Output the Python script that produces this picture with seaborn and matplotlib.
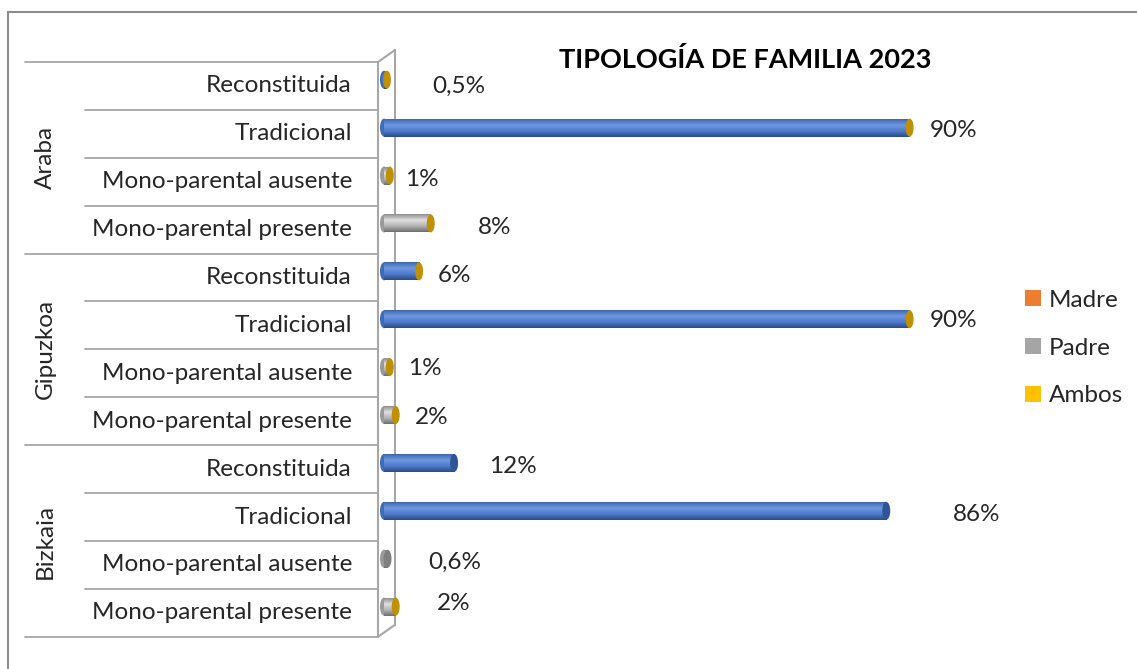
import numpy as np
import pandas as pd
import matplotlib
matplotlib.use("Agg")
import matplotlib.pyplot as plt
import seaborn as sns
from matplotlib.colors import LinearSegmentedColormap
from matplotlib.patches import Ellipse, Patch, Rectangle

# data
provincias = ["Araba", "Gipuzkoa", "Bizkaia"]
tipos = ["Reconstituida", "Tradicional", "Mono-parental ausente", "Mono-parental presente"]
araba = [0.5, 90, 1, 8]
gipuzkoa = [6, 90, 1, 2]
bizkaia = [12, 86, 0.6, 2]
leyenda = ["Madre", "Padre", "Ambos"]
titulo = "TIPOLOGÍA DE FAMILIA 2023"

# layout of the value labels (left edge in %, as placed by hand in the original)
label_x = [8.2, 93.5, 3.6, 16.1, 9.2, 93.5, 4.1, 5.3, 18.0, 97.4, 7.5, 9.1]
label_dy = [0, -0.06, -0.05, -0.05, -0.05, -0.1, -0.1, -0.08, -0.05, -0.06, -0.05, -0.2]

sns.set_theme(style="white")
plt.rcParams["font.family"] = ["Lato", "DejaVu Sans"]
FS = 17.5

rows = []
for prov, vals in zip(provincias, [araba, gipuzkoa, bizkaia]):
    for t, v in zip(tipos, vals):
        rows.append({"fila": prov + "|" + t, "provincia": prov, "tipo": t, "valor": v,
                     "color": "azul" if t in ("Reconstituida", "Tradicional") else "gris"})
df = pd.DataFrame(rows)

W, H = 1137, 669
fig = plt.figure(figsize=(W / 100, H / 100), dpi=100)
ax = fig.add_axes([0, 0, 1, 1])

# pixel <-> data mapping
PX_PER_PCT = 5.84
X0 = 384
ROW_H = 47.9
Y0 = 62
def px_x(p):
    return (p - X0) / PX_PER_PCT
def px_y(p):
    return (p - Y0) / ROW_H - 0.5

bar_h = 0.375
sns.barplot(data=df, x="valor", y="fila", hue="color", order=list(df["fila"]),
            palette={"azul": "#4472C4", "gris": "#A5A5A5"}, dodge=False,
            width=bar_h, orient="h", legend=False, ax=ax)

cmaps = {
    "azul": LinearSegmentedColormap.from_list("az", ["#3d66b3", "#7098e0", "#4d7bcc", "#2b4a88"]),
    "gris": LinearSegmentedColormap.from_list("gr", ["#8f8f8f", "#e0e0e0", "#b3b3b3", "#6e6e6e"]),
}
left_col = {"azul": "#3f6bbd", "gris": "#9a9a9a"}
cap_w = 8 / PX_PER_PCT
grad = np.linspace(0, 1, 64).reshape(-1, 1)
shift = -0.13

for p in list(ax.patches):
    yc = p.get_y() + p.get_height() / 2
    i = int(round(yc))
    r = df.iloc[i]
    p.set_y(p.get_y() + shift)
    p.set_edgecolor("none")
    yc = yc + shift
    v = r["valor"]
    kind = r["color"]
    if r["provincia"] == "Bizkaia" and kind == "azul":
        cap = "#2f5597"
    elif r["provincia"] == "Bizkaia" and r["tipo"] == "Mono-parental ausente":
        cap = "#7f7f7f"
    else:
        cap = "#BF9000"
    ax.add_patch(Ellipse((0, yc), cap_w, bar_h, facecolor=left_col[kind], edgecolor="none", zorder=2))
    im = ax.imshow(grad, cmap=cmaps[kind], aspect="auto", zorder=3,
                   extent=(0, v, yc + bar_h / 2, yc - bar_h / 2))
    im.set_clip_path(p)
    ax.add_patch(Ellipse((v, yc), cap_w, bar_h, facecolor=cap, edgecolor="none", zorder=4))
    txt = f"{v:g}".replace(".", ",") + "%"
    ax.text(label_x[i], i + label_dy[i], txt, ha="left", va="center", fontsize=FS, color="#262626")

# category labels and separators
for i, r in df.iterrows():
    ax.text(px_x(352), i, r["tipo"], ha="right", va="center", fontsize=FS, color="#262626")
for b in range(13):
    x_start = px_x(25) if b % 4 == 0 else px_x(85)
    ax.plot([x_start, px_x(378)], [b - 0.5, b - 0.5], color="#A6A6A6", lw=1.3, zorder=1)
for g, prov in enumerate(provincias):
    ax.text(px_x(45), g * 4 + 1.5, prov, rotation=90, ha="center", va="center",
            fontsize=FS, color="#262626")

# 3D wall of the category axis
dy = 12 / ROW_H
wall = dict(color="#A6A6A6", lw=1.5, zorder=1)
ax.plot([px_x(378), px_x(378)], [-0.5, 11.5], **wall)
ax.plot([px_x(395), px_x(395)], [-0.5 - dy, 11.5 - dy], **wall)
ax.plot([px_x(378), px_x(395)], [-0.5, -0.5 - dy], **wall)
ax.plot([px_x(378), px_x(395)], [11.5, 11.5 - dy], **wall)

ax.text(px_x(745), px_y(60), titulo, ha="center", va="center", fontsize=19.5,
        fontweight="bold", color="#000000")

ax.set_xlim(px_x(0), px_x(W))
ax.set_ylim(px_y(H), px_y(0))
ax.axis("off")

handles = [Patch(facecolor=c, edgecolor="none") for c in ["#ED7D31", "#A5A5A5", "#FFC000"]]
fig.legend(handles, leyenda, loc="upper left", bbox_to_anchor=(1003 / W, 1 - 268 / H),
           frameon=False, fontsize=FS, handlelength=0.65, handleheight=0.65,
           handletextpad=0.35, labelspacing=1.1, labelcolor="#262626")

fig.add_artist(Rectangle((8 / W, -0.1), 1.2, 1 - 12 / H + 0.1, transform=fig.transFigure,
                         facecolor="none", edgecolor="#8C8C8C", lw=1.5))

fig.savefig("out.png", dpi=100, facecolor="white")
